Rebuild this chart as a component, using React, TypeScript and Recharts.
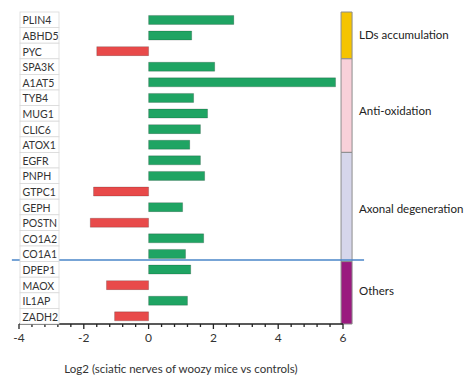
import React from 'react'
import { BarChart, Bar, XAxis, YAxis, Cell, ReferenceArea } from 'recharts'

// proteins, top to bottom
const genes = [
  'PLIN4', 'ABHD5', 'PYC',
  'SPA3K', 'A1AT5', 'TYB4', 'MUG1', 'CLIC6', 'ATOX1',
  'EGFR', 'PNPH', 'GTPC1', 'GEPH', 'POSTN', 'CO1A2', 'CO1A1',
  'DPEP1', 'MAOX', 'IL1AP', 'ZADH2',
]
const log2fc = [
  2.63, 1.33, -1.6,
  2.04, 5.77, 1.39, 1.82, 1.6, 1.27,
  1.6, 1.73, -1.7, 1.05, -1.8, 1.7, 1.14,
  1.3, -1.3, 1.2, -1.05,
]

// functional groups (first gene, last gene)
const groupNames = ['LDs accumulation', 'Anti-oxidation', 'Axonal degeneration', 'Others']
const groupFirst = ['PLIN4', 'SPA3K', 'EGFR', 'DPEP1']
const groupLast = ['PYC', 'ATOX1', 'CO1A1', 'ZADH2']
const groupColors = ['#f5c400', '#f8d0d9', '#d6d6eb', '#9a1a7f']
const groupLabelShift = [0, 5, 2, -2]

const majorTicks = [-4, -2, 0, 2, 4, 6]
const minorPerMajor = 5
const xTicks: number[] = []
majorTicks.forEach((t, i) => {
  if (i === majorTicks.length - 1) { xTicks.push(t); return }
  for (let k = 0; k < minorPerMajor; k++) xTicks.push(t + (k * 2) / minorPerMajor)
})

const data = genes.map((gene, i) => ({ gene, value: log2fc[i] }))

const FONT = 'Lato, "Open Sans", sans-serif'
const BAND = 15.6

const GeneCell = (props: any) => {
  const { y, payload } = props
  return (
    <g>
      <rect x={20} y={y - BAND / 2} width={39} height={BAND} fill="#fff" stroke="#d9d9d9" strokeWidth={0.8} />
      <text x={22.5} y={y + 0.5} dominantBaseline="central" fontSize={10.5} fill="#333" fontFamily={FONT}>
        {payload.value}
      </text>
    </g>
  )
}

const XTick = (props: any) => {
  const { x, y, payload } = props
  const v = payload.value
  const major = majorTicks.some((m) => Math.abs(m - v) < 1e-6)
  return (
    <g>
      <line x1={x} x2={x} y1={y} y2={y + (major ? 5 : 3)} stroke="#222" strokeWidth={1.3} />
      {major && (
        <text x={x} y={y + 18} textAnchor="middle" fontSize={12} fill="#333" fontFamily={FONT}>
          {Math.round(v)}
        </text>
      )}
    </g>
  )
}

export default function App() {
  return (
    <div style={{ position: 'absolute', left: 0, top: 0, background: '#fff' }}>
      <BarChart
        width={470}
        height={381}
        data={data}
        layout="vertical"
        margin={{ top: 12, right: 127, bottom: 0, left: 18 }}
        barCategoryGap="22%"
      >
        <XAxis
          type="number"
          domain={[-4, 6]}
          ticks={xTicks}
          interval={0}
          height={57}
          tickSize={0}
          tickMargin={0}
          tickLine={false}
          axisLine={{ stroke: '#222', strokeWidth: 1.5 }}
          tick={<XTick />}
          label={{
            value: 'Log2 (sciatic nerves of woozy mice vs controls)',
            position: 'insideBottom',
            offset: 8,
            fontSize: 11.5,
            fill: '#333',
            fontFamily: FONT,
          }}
        />
        <YAxis
          type="category"
          dataKey="gene"
          width={1}
          interval={0}
          tickSize={0}
          tickMargin={0}
          axisLine={false}
          tickLine={false}
          tick={<GeneCell />}
        />
        <Bar dataKey="value" isAnimationActive={false} stroke="rgba(0,0,0,0.3)" strokeWidth={0.6}>
          {data.map((d) => (
            <Cell key={d.gene} fill={d.value >= 0 ? '#1fa463' : '#e84a4a'} />
          ))}
        </Bar>
        {groupNames.map((name, i) => (
          <ReferenceArea
            key={name}
            x1={5.94}
            x2={6.28}
            y1={groupFirst[i]}
            y2={groupLast[i]}
            ifOverflow="visible"
            fill={groupColors[i]}
            fillOpacity={1}
            stroke="#8c8c8c"
            strokeWidth={1}
            label={{
              value: name,
              position: 'right',
              offset: 7,
              dy: groupLabelShift[i],
              fontSize: 11.5,
              fill: '#222',
              fontFamily: FONT,
            }}
          />
        ))}
        <ReferenceArea
          x1={-4.22}
          x2={6.65}
          y1="DPEP1"
          y2="DPEP1"
          ifOverflow="visible"
          shape={(p: any) => (
            <line x1={p.x} x2={p.x + p.width} y1={p.y - 1.5} y2={p.y - 1.5} stroke="#4a86c8" strokeWidth={1.5} />
          )}
        />
      </BarChart>
    </div>
  )
}
